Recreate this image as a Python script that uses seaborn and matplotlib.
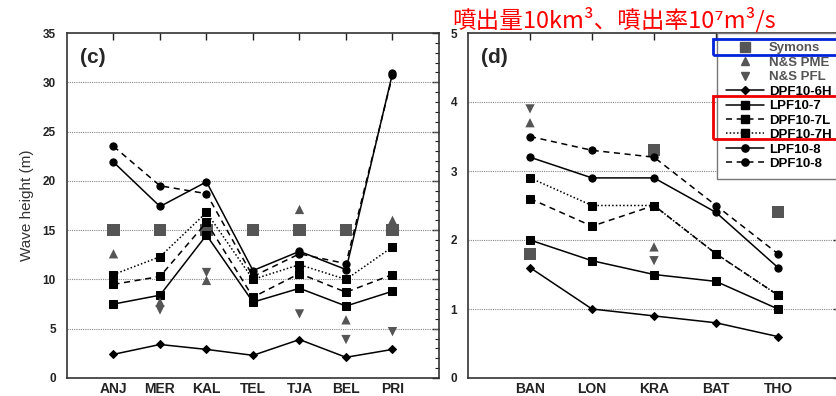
import numpy as np
import matplotlib.pyplot as plt
from matplotlib.lines import Line2D
from matplotlib.patches import Rectangle
from matplotlib.ticker import MultipleLocator
import seaborn as sns

sns.set_theme(style="white")
plt.rcParams["font.family"] = ["Liberation Sans", "Noto Sans CJK JP", "DejaVu Sans"]

# ── Data: panel (c) ───────────────────────────────────────
sites_c = ["ANJ", "MER", "KAL", "TEL", "TJA", "BEL", "PRI"]
symons_c = [15, 15, 15, 15, 15, 15, 15]
pme_c = [12.6, 7.7, 9.9, np.nan, 17.1, 5.9, 16.0]
pfl_c = [np.nan, 6.9, 10.7, np.nan, 6.5, 3.9, 4.7]
dpf6h_c = [2.4, 3.4, 2.9, 2.3, 3.9, 2.1, 2.9]
lpf7_c = [7.5, 8.4, 14.5, 7.7, 9.1, 7.3, 8.8]
dpf7l_c = [9.5, 10.3, 15.8, 8.2, 10.6, 8.7, 10.5]
dpf7h_c = [10.5, 12.3, 16.8, 10.0, 11.5, 10.0, 13.3]
lpf8_c = [21.9, 17.4, 19.9, 10.9, 12.85, 11.0, 30.9]
dpf8_c = [23.5, 19.5, 18.7, 10.3, 12.6, 11.6, 30.7]

# ── Data: panel (d) ───────────────────────────────────────
sites_d = ["BAN", "LON", "KRA", "BAT", "THO"]
symons_d = [1.8, np.nan, 3.3, np.nan, 2.4]
pme_d = [3.7, np.nan, 1.9, np.nan, np.nan]
pfl_d = [3.9, np.nan, 1.7, np.nan, np.nan]
dpf6h_d = [1.6, 1.0, 0.9, 0.8, 0.6]
lpf7_d = [2.0, 1.7, 1.5, 1.4, 1.0]
dpf7l_d = [2.6, 2.2, 2.5, 1.8, 1.2]
dpf7h_d = [2.9, 2.5, 2.5, 1.8, 1.2]
lpf8_d = [3.2, 2.9, 2.9, 2.4, 1.6]
dpf8_d = [3.5, 3.3, 3.2, 2.5, 1.8]

# ── Style ─────────────────────────────────────────────────
GRAY = "#555555"
SOLID = "-"
DASH = (0, (4, 3))
DOT = (0, (1, 1.4))

def draw_panel(ax, sites, sym, pme, pfl, d6h, l7, d7l, d7h, l8, d8):
    # model runs: (values, linestyle, marker, size)
    runs = [
        (d6h, SOLID, "D", 4.5),
        (l7, SOLID, "s", 5.8),
        (d7l, DASH, "s", 5.8),
        (d7h, DOT, "s", 5.8),
        (l8, SOLID, "o", 5.2),
        (d8, DASH, "o", 5.2),
    ]
    for vals, ls, mk, ms in runs:
        sns.lineplot(x=sites, y=vals, ax=ax, sort=False, color="black",
                     linestyle=ls, linewidth=1.1, marker=mk, markersize=ms,
                     markeredgecolor="black", zorder=3)
    # observations
    sns.scatterplot(x=sites, y=sym, ax=ax, marker="s", s=75, color=GRAY,
                    edgecolor="none", zorder=2)
    sns.scatterplot(x=sites, y=pme, ax=ax, marker="^", s=45, color=GRAY,
                    edgecolor="none", zorder=4)
    sns.scatterplot(x=sites, y=pfl, ax=ax, marker="v", s=45, color=GRAY,
                    edgecolor="none", zorder=4)

    ax.set_xlim(-1, len(sites))
    ax.set_xlabel("")
    ax.set_ylabel("")
    ax.tick_params(axis="both", which="both", direction="in",
                   top=True, right=True, colors="#222222")
    ax.tick_params(axis="both", which="major", length=5, width=1)
    ax.tick_params(axis="y", which="minor", length=3, width=0.8)
    ax.tick_params(axis="x", which="minor", bottom=False, top=False)
    ax.tick_params(axis="x", labelsize=10, pad=3)
    ax.tick_params(axis="y", labelsize=8.5, pad=8)
    for lab in ax.get_xticklabels() + ax.get_yticklabels():
        lab.set_fontweight("bold")
    for sp in ax.spines.values():
        sp.set_color("#333333")
        sp.set_linewidth(1.2)
    ax.grid(False)


fig = plt.figure(figsize=(8.37, 3.96), dpi=100)
W, H = 837, 396

# ─────────────────────────────────────────────────────────
# Panel (c)
# ─────────────────────────────────────────────────────────
ax_c = fig.add_axes([67 / W, (H - 378) / H, (439 - 67) / W, (378 - 33) / H])
draw_panel(ax_c, sites_c, symons_c, pme_c, pfl_c, dpf6h_c,
           lpf7_c, dpf7l_c, dpf7h_c, lpf8_c, dpf8_c)
ax_c.set_ylim(0, 35)
ax_c.yaxis.set_major_locator(MultipleLocator(5))
ax_c.yaxis.set_minor_locator(MultipleLocator(1))
for g in range(5, 35, 5):
    ax_c.axhline(g, color="#888888", linestyle=(0, (1, 1)), linewidth=0.8, zorder=1)
ax_c.set_ylabel("Wave height (m)", fontsize=11, color="#333333", labelpad=6)
ax_c.text(0.035, 0.93, "(c)", transform=ax_c.transAxes, fontsize=15,
          fontweight="bold", va="center", ha="left")
for lab in ax_c.get_yticklabels():
    lab.set_fontweight("bold")

# ─────────────────────────────────────────────────────────
# Panel (d)
# ─────────────────────────────────────────────────────────
ax_d = fig.add_axes([468 / W, (H - 378) / H, (840 - 468) / W, (378 - 33) / H])
draw_panel(ax_d, sites_d, symons_d, pme_d, pfl_d, dpf6h_d,
           lpf7_d, dpf7l_d, dpf7h_d, lpf8_d, dpf8_d)
ax_d.set_ylim(0, 5)
ax_d.yaxis.set_major_locator(MultipleLocator(1))
ax_d.yaxis.set_minor_locator(MultipleLocator(0.2))
for g in range(1, 5):
    ax_d.axhline(g, color="#888888", linestyle=(0, (1, 1)), linewidth=0.8, zorder=1)
ax_d.text(0.035, 0.93, "(d)", transform=ax_d.transAxes, fontsize=15,
          fontweight="bold", va="center", ha="left")
for lab in ax_d.get_yticklabels():
    lab.set_fontweight("bold")

# Legend
handles = [
    Line2D([], [], linestyle="none", marker="s", markersize=7, color=GRAY),
    Line2D([], [], linestyle="none", marker="^", markersize=6, color=GRAY),
    Line2D([], [], linestyle="none", marker="v", markersize=6, color=GRAY),
    Line2D([], [], color="black", linestyle=SOLID, marker="D", markersize=4.5, lw=1.1),
    Line2D([], [], color="black", linestyle=SOLID, marker="s", markersize=5.8, lw=1.1),
    Line2D([], [], color="black", linestyle=DASH, marker="s", markersize=5.8, lw=1.1),
    Line2D([], [], color="black", linestyle=DOT, marker="s", markersize=5.8, lw=1.1),
    Line2D([], [], color="black", linestyle=SOLID, marker="o", markersize=5.2, lw=1.1),
    Line2D([], [], color="black", linestyle=DASH, marker="o", markersize=5.2, lw=1.1),
]
labels = ["Symons", "N&S PME", "N&S PFL", "DPF10-6H", "LPF10-7",
          "DPF10-7L", "DPF10-7H", "LPF10-8", "DPF10-8"]
leg = fig.legend(handles, labels, loc="upper left",
                 bbox_to_anchor=(717 / W, 1 - 33 / H),
                 prop={"weight": "bold", "size": 9.5},
                 handlelength=2.9, handletextpad=0.35, labelspacing=0.17,
                 borderpad=0.68, borderaxespad=0, fancybox=False, framealpha=1,
                 edgecolor="#777777")
leg.get_frame().set_linewidth(1.0)
for i, t in enumerate(leg.get_texts()):
    t.set_color(GRAY if i < 3 else "black")

# highlight boxes
fig.patches.append(Rectangle((713 / W, 1 - 55 / H), 125 / W, 16 / H,
                             transform=fig.transFigure, fill=False,
                             edgecolor="#0022DD", linewidth=2, zorder=10))
fig.patches.append(Rectangle((713 / W, 1 - 139 / H), 126 / W, 43 / H,
                             transform=fig.transFigure, fill=False,
                             edgecolor="#EE0000", linewidth=2, zorder=10))

# red heading
fig.text(452 / W, 1 - 27 / H, "噴出量10km³、噴出率10⁷m³/s", color="#FF0000",
         fontsize=17, family=["Noto Sans CJK JP", "DejaVu Sans"],
         va="baseline", ha="left")

fig.savefig("out.png", dpi=100)
